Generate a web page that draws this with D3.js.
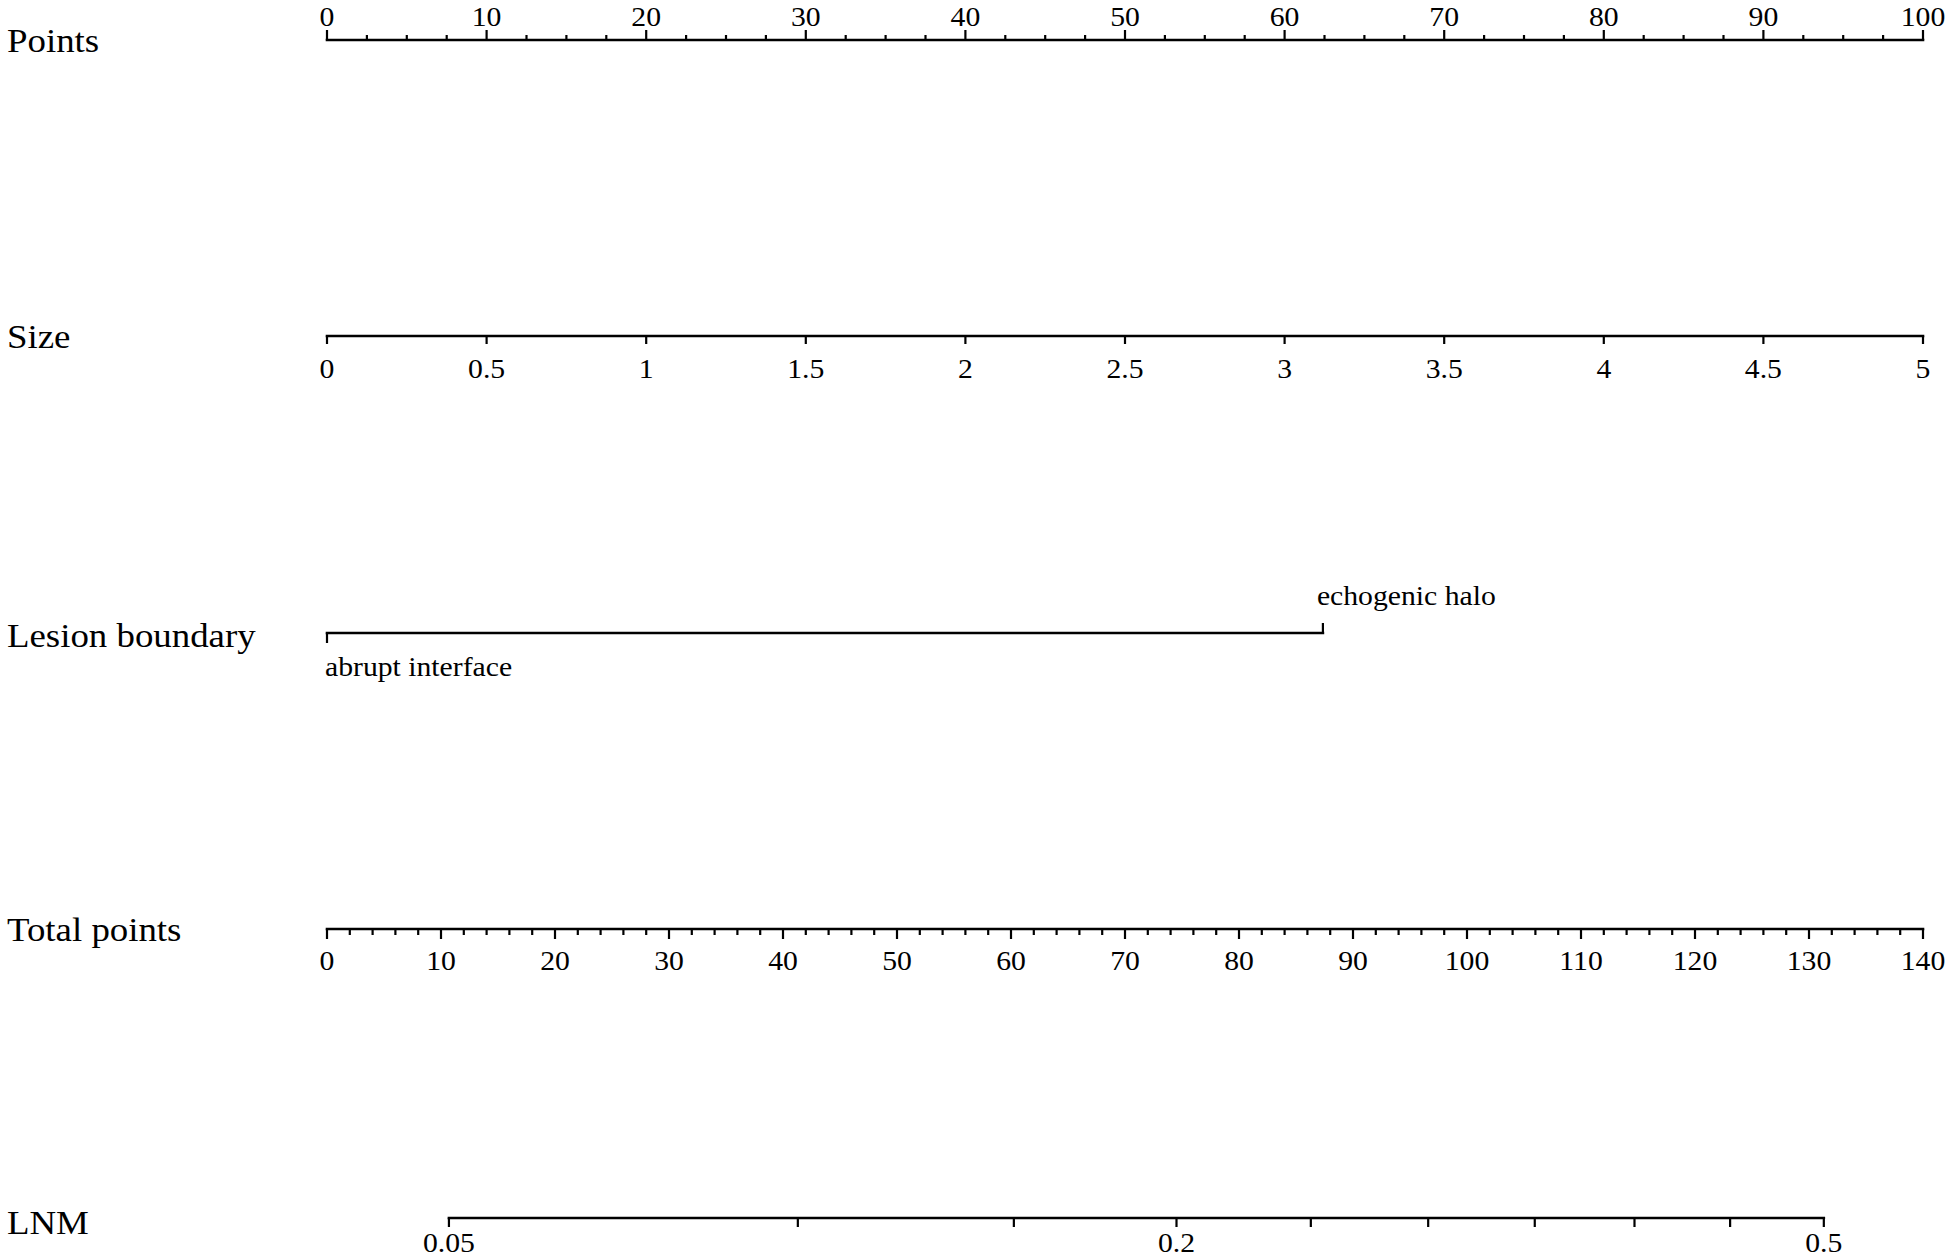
<!DOCTYPE html>
<html>
<head>
<meta charset="utf-8">
<script src="https://cdn.jsdelivr.net/npm/d3@7"></script>
<style>
  html, body { margin: 0; padding: 0; background: #fff; }
  svg { display: block; }
  text { font-family: "Liberation Serif", "Times New Roman", serif; fill: #000; }
</style>
</head>
<body>
<script>
// ---------------- data ----------------
const rowLabels = ["Points", "Size", "Lesion boundary", "Total points", "LNM"];

const pointsRange = [0, 100];
const pointsMajorTicks = [0, 10, 20, 30, 40, 50, 60, 70, 80, 90, 100];
const pointsMinorStep = 2.5;

const sizeDomain = [0, 5];            // Size 0..5 maps to 0..100 points
const sizeTicks = [0, 0.5, 1, 1.5, 2, 2.5, 3, 3.5, 4, 4.5, 5];

const boundaryCategories = ["abrupt interface", "echogenic halo"];
const boundaryPoints = [0, 62.4];

const totalRange = [0, 140];
const totalMajorTicks = [0, 10, 20, 30, 40, 50, 60, 70, 80, 90, 100, 110, 120, 130, 140];
const totalMinorStep = 2;

const lnmTicks = [0.05, 0.1, 0.15, 0.2, 0.25, 0.3, 0.35, 0.4, 0.45, 0.5];
const lnmLabels = [0.05, 0.2, 0.5];
const lnmZeroLogitTotal = 131.3;      // total points where logit = 0
const lnmPointsPerLogit = 40.96;      // total points per unit logit

// ---------------- layout ----------------
const W = 1949, H = 1259;
const X0 = 327, X1 = 1923;
const labelX = 7;
const rowY = { points: 40, size: 336, boundary: 633, total: 929, lnm: 1218 };
const rowFont = 33.5, tickFont = 27, sx = 1.1;
const lw = 2.6;

const svg = d3.select("body").append("svg").attr("width", W).attr("height", H);

const xPts = d3.scaleLinear().domain(pointsRange).range([X0, X1]);
const xSize = d3.scaleLinear().domain(sizeDomain).range([X0, X1]);
const xTot = d3.scaleLinear().domain(totalRange).range([X0, X1]);
const logit = p => Math.log(p / (1 - p));
const xLnm = p => xTot(lnmZeroLogitTotal + logit(p) * lnmPointsPerLogit);

function txt(g, x, y, s, size, anchor) {
  return g.append("text")
    .attr("transform", `translate(${x},${y}) scale(${sx},1)`)
    .attr("font-size", size)
    .attr("text-anchor", anchor || "start")
    .text(s);
}

function hline(y, xa, xb) {
  svg.append("line").attr("x1", xa).attr("x2", xb).attr("y1", y).attr("y2", y)
    .attr("stroke", "#000").attr("stroke-width", lw).attr("stroke-linecap", "square");
}
function tick(x, y, len) {
  svg.append("line").attr("x1", x).attr("x2", x).attr("y1", y).attr("y2", y + len)
    .attr("stroke", "#000").attr("stroke-width", 2.2);
}

// row labels
const labelYs = [rowY.points, rowY.size, rowY.boundary, rowY.total, rowY.lnm];
const labelDy = [12, 12, 14, 12, 16];
rowLabels.forEach((l, i) => txt(svg, labelX, labelYs[i] + labelDy[i], l, rowFont, "start"));

// ---- Points ----
hline(rowY.points, xPts(0), xPts(100));
const ptsMinor = d3.range(pointsRange[0], pointsRange[1] + 0.001, pointsMinorStep)
  .filter(v => !pointsMajorTicks.includes(v));
ptsMinor.forEach(v => tick(xPts(v), rowY.points, -5));
pointsMajorTicks.forEach(v => {
  tick(xPts(v), rowY.points, -10);
  txt(svg, xPts(v), rowY.points - 14, String(v), tickFont, "middle");
});

// ---- Size ----
hline(rowY.size, xSize(0), xSize(5));
sizeTicks.forEach(v => {
  tick(xSize(v), rowY.size, 8);
  txt(svg, xSize(v), rowY.size + 42, String(v), tickFont, "middle");
});

// ---- Lesion boundary ----
const bx0 = xPts(boundaryPoints[0]), bx1 = xPts(boundaryPoints[1]);
hline(rowY.boundary, bx0, bx1);
tick(bx0, rowY.boundary, 10);
tick(bx1, rowY.boundary, -10);
txt(svg, bx0 - 2, rowY.boundary + 43, boundaryCategories[0], tickFont, "start");
txt(svg, bx1 - 6, rowY.boundary - 28, boundaryCategories[1], tickFont, "start");

// ---- Total points ----
hline(rowY.total, xTot(0), xTot(140));
const totMinor = d3.range(totalRange[0], totalRange[1] + 0.001, totalMinorStep)
  .filter(v => !totalMajorTicks.includes(v));
totMinor.forEach(v => tick(xTot(v), rowY.total, 6));
totalMajorTicks.forEach(v => {
  tick(xTot(v), rowY.total, 10);
  txt(svg, xTot(v), rowY.total + 41, String(v), tickFont, "middle");
});

// ---- LNM ----
hline(rowY.lnm, xLnm(lnmTicks[0]), xLnm(lnmTicks[lnmTicks.length - 1]));
lnmTicks.forEach(p => tick(xLnm(p), rowY.lnm, 9));
lnmLabels.forEach(p => txt(svg, xLnm(p), rowY.lnm + 34, String(p), tickFont, "middle"));
</script>
</body>
</html>
